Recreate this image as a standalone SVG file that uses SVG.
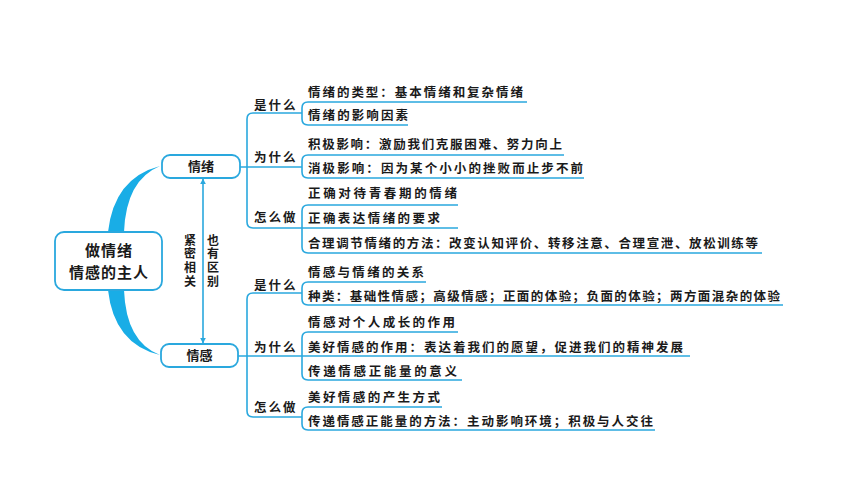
<svg xmlns="http://www.w3.org/2000/svg" width="860" height="484" viewBox="0 0 860 484">
<defs>
<style>
.bg{fill:#ffffff}
.box{fill:#ffffff;stroke:#2aa8de;stroke-width:1.8}
.ln{fill:none;stroke:#2aa8de;stroke-width:1.6}
.cr{fill:#19ade6}
.t{font-family:"Noto Sans CJK SC","Noto Sans",sans-serif;fill:#1a1a1a}
.root{font-size:15px;font-weight:700;text-anchor:middle;letter-spacing:1px}
.mid{font-size:13px;font-weight:700;text-anchor:middle}
.lab{font-size:12.5px;font-weight:700;letter-spacing:2px}
.it{font-size:12.5px;font-weight:700}
.vt{font-size:12px;font-weight:700;writing-mode:vertical-rl;text-orientation:upright;letter-spacing:1.8px}
</style>
<marker id="ah" viewBox="0 0 10 10" refX="9" refY="5" markerWidth="6" markerHeight="6" orient="auto-start-reverse" markerUnits="userSpaceOnUse">
<path d="M0,0 L10,5 L0,10 z" fill="#2aa8de"/>
</marker>
</defs>
<rect class="bg" x="0" y="0" width="860" height="484"/>

<g id="connectors">
<path class="cr" d="M108,232 Q114,178 160,166 Q126,180 124,232 Z"/>
<path class="cr" d="M108,290 Q114,344 160,355 Q126,342 124,290 Z"/>
<line class="ln" x1="203" y1="179" x2="203" y2="343" marker-start="url(#ah)" marker-end="url(#ah)"/>
<!-- top group -->
<path class="ln" d="M240,167 H302"/>
<path class="ln" d="M302,113 H253 Q247,113 247,119 V222 Q247,228 253,228 H302"/>
<path class="ln" d="M527,102 H308 Q302,102 302,108 V119 Q302,125 308,125 H408"/>
<path class="ln" d="M564,155 H308 Q302,155 302,161 V172 Q302,178 308,178 H584"/>
<path class="ln" d="M458,205 H308 Q302,205 302,211 V247 Q302,253 308,253 H762"/>
<path class="ln" d="M302,228 H458"/>
<!-- bottom group -->
<path class="ln" d="M238,356 H690"/>
<path class="ln" d="M302,293 H253 Q247,293 247,299 V411 Q247,417 253,417 H302"/>
<path class="ln" d="M426,282 H308 Q302,282 302,288 V299 Q302,305 308,305 H783"/>
<path class="ln" d="M458,332 H308 Q302,332 302,338 V374 Q302,380 308,380 H462"/>
<path class="ln" d="M442,407 H308 Q302,407 302,413 V424 Q302,430 308,430 H655"/>
</g>

<g id="root">
<rect class="box" x="55" y="232" width="107" height="58" rx="9"/>
<text class="t root"><tspan x="109" y="255.5">做情绪</tspan><tspan x="109" y="277.5">情感的主人</tspan></text>
</g>

<g id="node-qingxu">
<rect class="box" x="162" y="155" width="78" height="23" rx="8"/>
<text class="t mid" x="201" y="171">情绪</text>
</g>

<g id="node-qinggan">
<rect class="box" x="161" y="344" width="77" height="23" rx="8"/>
<text class="t mid" x="199.5" y="360">情感</text>
</g>

<g id="relation-label">
<text class="t vt" x="190" y="234">紧密相关</text>
<text class="t vt" x="213" y="234">也有区别</text>
</g>

<g id="labels">
<text class="t lab" x="254" y="110">是什么</text>
<text class="t lab" x="254" y="162">为什么</text>
<text class="t lab" x="254" y="222">怎么做</text>
<text class="t lab" x="254" y="290">是什么</text>
<text class="t lab" x="254" y="352">为什么</text>
<text class="t lab" x="254" y="412">怎么做</text>
</g>

<g id="item1"><text class="t it" x="308" y="97" textLength="215" lengthAdjust="spacing">情绪的类型：基本情绪和复杂情绪</text></g>
<g id="item2"><text class="t it" x="308" y="120" textLength="100" lengthAdjust="spacing">情绪的影响因素</text></g>
<g id="item3"><text class="t it" x="308" y="149" textLength="254" lengthAdjust="spacing">积极影响：激励我们克服困难、努力向上</text></g>
<g id="item4"><text class="t it" x="308" y="173" textLength="275" lengthAdjust="spacing">消极影响：因为某个小小的挫败而止步不前</text></g>
<g id="item5"><text class="t it" x="308" y="198" textLength="149" lengthAdjust="spacing">正确对待青春期的情绪</text></g>
<g id="item6"><text class="t it" x="308" y="223" textLength="132" lengthAdjust="spacing">正确表达情绪的要求</text></g>
<g id="item7"><text class="t it" x="308" y="248" textLength="450" lengthAdjust="spacing">合理调节情绪的方法：改变认知评价、转移注意、合理宣泄、放松训练等</text></g>
<g id="item8"><text class="t it" x="308" y="277" textLength="116" lengthAdjust="spacing">情感与情绪的关系</text></g>
<g id="item9"><text class="t it" x="308" y="301" textLength="472" lengthAdjust="spacing">种类：基础性情感；高级情感；正面的体验；负面的体验；两方面混杂的体验</text></g>
<g id="item10"><text class="t it" x="308" y="327" textLength="147" lengthAdjust="spacing">情感对个人成长的作用</text></g>
<g id="item11"><text class="t it" x="308" y="352" textLength="375" lengthAdjust="spacing">美好情感的作用：表达着我们的愿望，促进我们的精神发展</text></g>
<g id="item12"><text class="t it" x="308" y="376" textLength="149" lengthAdjust="spacing">传递情感正能量的意义</text></g>
<g id="item13"><text class="t it" x="308" y="402" textLength="132" lengthAdjust="spacing">美好情感的产生方式</text></g>
<g id="item14"><text class="t it" x="308" y="426" textLength="345" lengthAdjust="spacing">传递情感正能量的方法：主动影响环境；积极与人交往</text></g>
</svg>
